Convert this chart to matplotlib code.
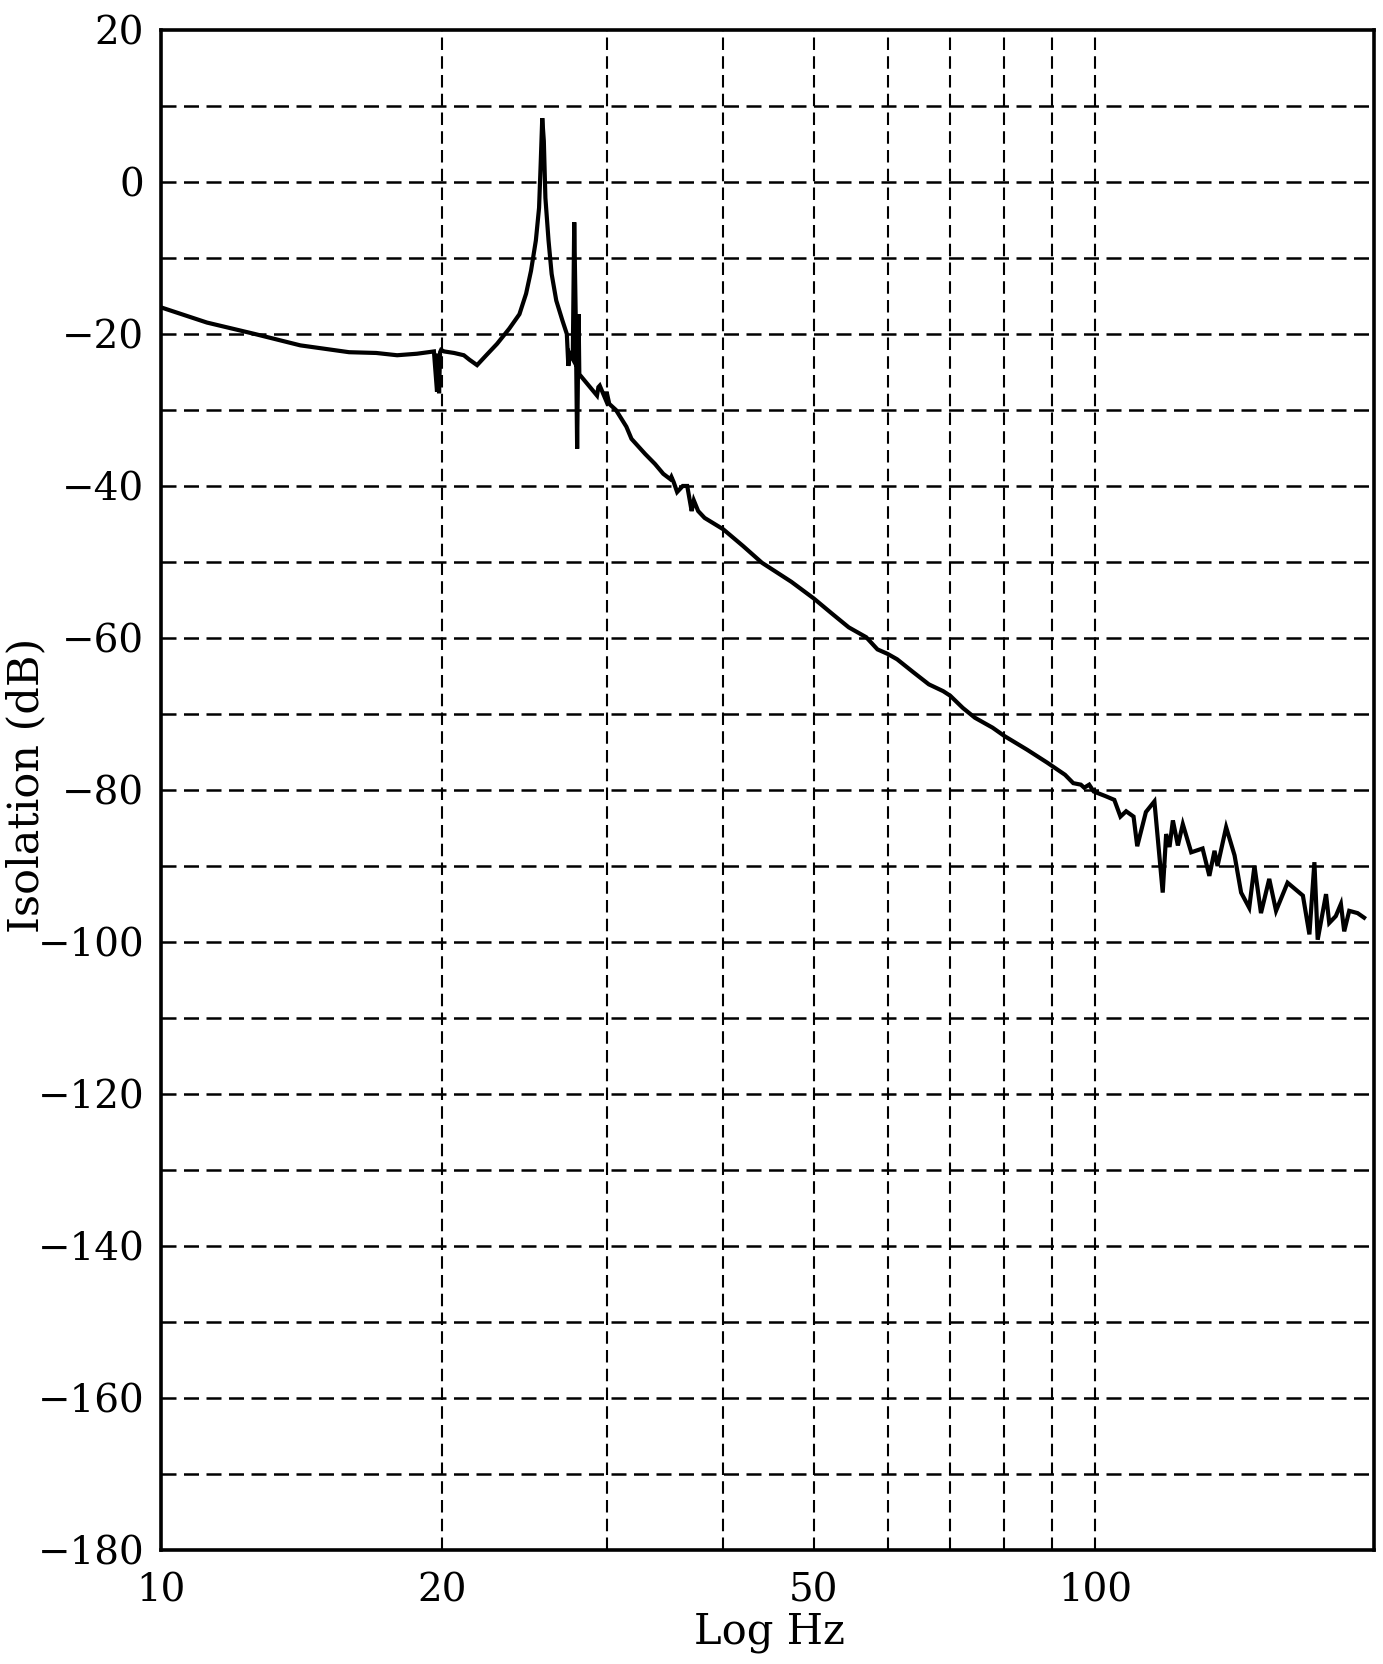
import matplotlib
matplotlib.use("Agg")
import matplotlib.pyplot as plt
import numpy as np

freq_hz = [10.0, 11.2, 12.6, 14.1, 15.9, 17.0, 17.9, 18.8, 19.6, 19.75, 19.8, 19.85, 19.9, 19.95,
           20.1, 20.6, 21.1, 21.4, 21.8, 22.3, 22.9, 23.6, 24.2, 24.6, 24.9, 25.2, 25.4, 25.5,
           25.6, 25.7, 25.8, 26.0, 26.2, 26.5, 26.9, 27.2, 27.3, 27.4, 27.6, 27.7, 27.8, 27.9,
           28.0, 28.05, 28.4, 29.3, 29.4, 29.5, 29.9, 30.0, 30.2, 30.7, 31.5, 31.9, 33.0, 33.8,
           34.5, 35.1, 35.2, 35.4, 35.7, 36.2, 36.6, 37.0, 37.2, 37.6, 38.2, 40.0, 42.0, 44.0,
           47.3, 50.0, 52.3, 54.5, 56.9, 58.5, 60.0, 61.4, 63.9, 66.4, 68.8, 70.0, 72.2, 74.4,
           77.7, 80.0, 84.6, 88.9, 92.9, 94.8, 96.6, 97.4, 98.6, 99.7, 102.6, 104.9, 106.5,
           108.0, 110.0, 111.0, 113.4, 115.8, 118.2, 119.2, 120.2, 121.2, 122.7, 124.2, 126.8,
           130.4, 132.6, 134.3, 135.3, 138.2, 141.1, 143.4, 146.3, 148.2, 150.6, 153.7, 156.3,
           160.8, 167.0, 169.7, 171.8, 173.2, 176.8, 178.2, 181.1, 183.4, 184.9, 187.2, 191.1,
           194.2]
isolation_db = [-16.5, -18.5, -20.0, -21.5, -22.4, -22.5, -22.8, -22.6, -22.3, -27.6, -22.6, -27.8, -22.4, -22.1,
                -22.3, -22.5, -22.8, -23.4, -24.1, -22.8, -21.3, -19.3, -17.4, -14.7, -11.7, -7.7, -3.4, 2.3,
                8.4, 5.4, -2.1, -7.7, -12.1, -15.6, -18.2, -20.0, -24.2, -22.6, -23.3, -5.3, -17.4, -35.1,
                -17.4, -25.3, -26.1, -28.1, -27.0, -26.8, -28.5, -27.6, -29.2, -30.0, -32.2, -33.8, -35.8, -37.1,
                -38.4, -39.1, -38.8, -39.5, -40.8, -40.0, -40.0, -43.3, -41.9, -43.3, -44.2, -45.7, -47.9, -50.1,
                -52.6, -54.8, -56.8, -58.6, -59.9, -61.5, -62.1, -62.8, -64.5, -66.1, -67.0, -67.6, -69.2, -70.5,
                -71.8, -72.9, -74.7, -76.4, -78.0, -79.1, -79.3, -79.7, -79.3, -80.2, -80.8, -81.3, -83.5,
                -82.8, -83.5, -87.4, -82.9, -81.5, -93.5, -85.8, -87.5, -84.0, -87.3, -84.5, -88.2,
                -87.7, -91.3, -88.0, -90.0, -84.9, -88.6, -93.5, -95.5, -90.0, -96.2, -91.7, -95.9,
                -92.2, -93.9, -99.0, -89.5, -99.7, -93.7, -97.5, -96.6, -95.0, -98.6, -95.9, -96.2,
                -96.8]

x_ticks = [10, 20, 50, 100]
x_tick_labels = ["10", "20", "50", "100"]
x_grid = [20, 30, 40, 50, 60, 70, 80, 90, 100]
y_ticks = list(range(-180, 21, 20))
y_grid = list(range(-170, 20, 10))

plt.rcParams['font.family'] = ['DejaVu Serif']
fig = plt.figure(figsize=(13.83, 16.64), dpi=100)
ax = fig.add_axes([0.1164, 0.0685, 0.9935 - 0.1164, 0.9820 - 0.0685])

ax.plot(freq_hz, isolation_db, color='black', lw=3.0, solid_joinstyle='miter')
ax.set_xscale('log')
ax.set_xlim(10, 199)
ax.set_ylim(-180, 20)

for g in y_grid:
    ax.axhline(g, color='black', lw=1.8, ls=(0, (6, 3)), zorder=0)
for g in x_grid:
    ax.axvline(g, color='black', lw=1.5, ls=(0, (6, 3)), zorder=0)

ax.set_xticks(x_ticks)
ax.set_xticklabels(x_tick_labels)
ax.xaxis.set_minor_locator(matplotlib.ticker.NullLocator())
ax.set_yticks(y_ticks)
ax.set_yticklabels([("\u2212" + str(-v)) if v < 0 else str(v) for v in y_ticks])
ax.tick_params(axis='both', length=0, labelsize=28, pad=12)
ax.tick_params(axis='x', pad=16)

for s in ax.spines.values():
    s.set_linewidth(2.6)

ax.set_xlabel("Log Hz", fontsize=30)
ax.set_ylabel("Isolation (dB)", fontsize=31)
ax.xaxis.set_label_coords(0.502, -0.040)
ax.yaxis.set_label_coords(-0.094, 0.503)

fig.savefig("out.png", dpi=100)
